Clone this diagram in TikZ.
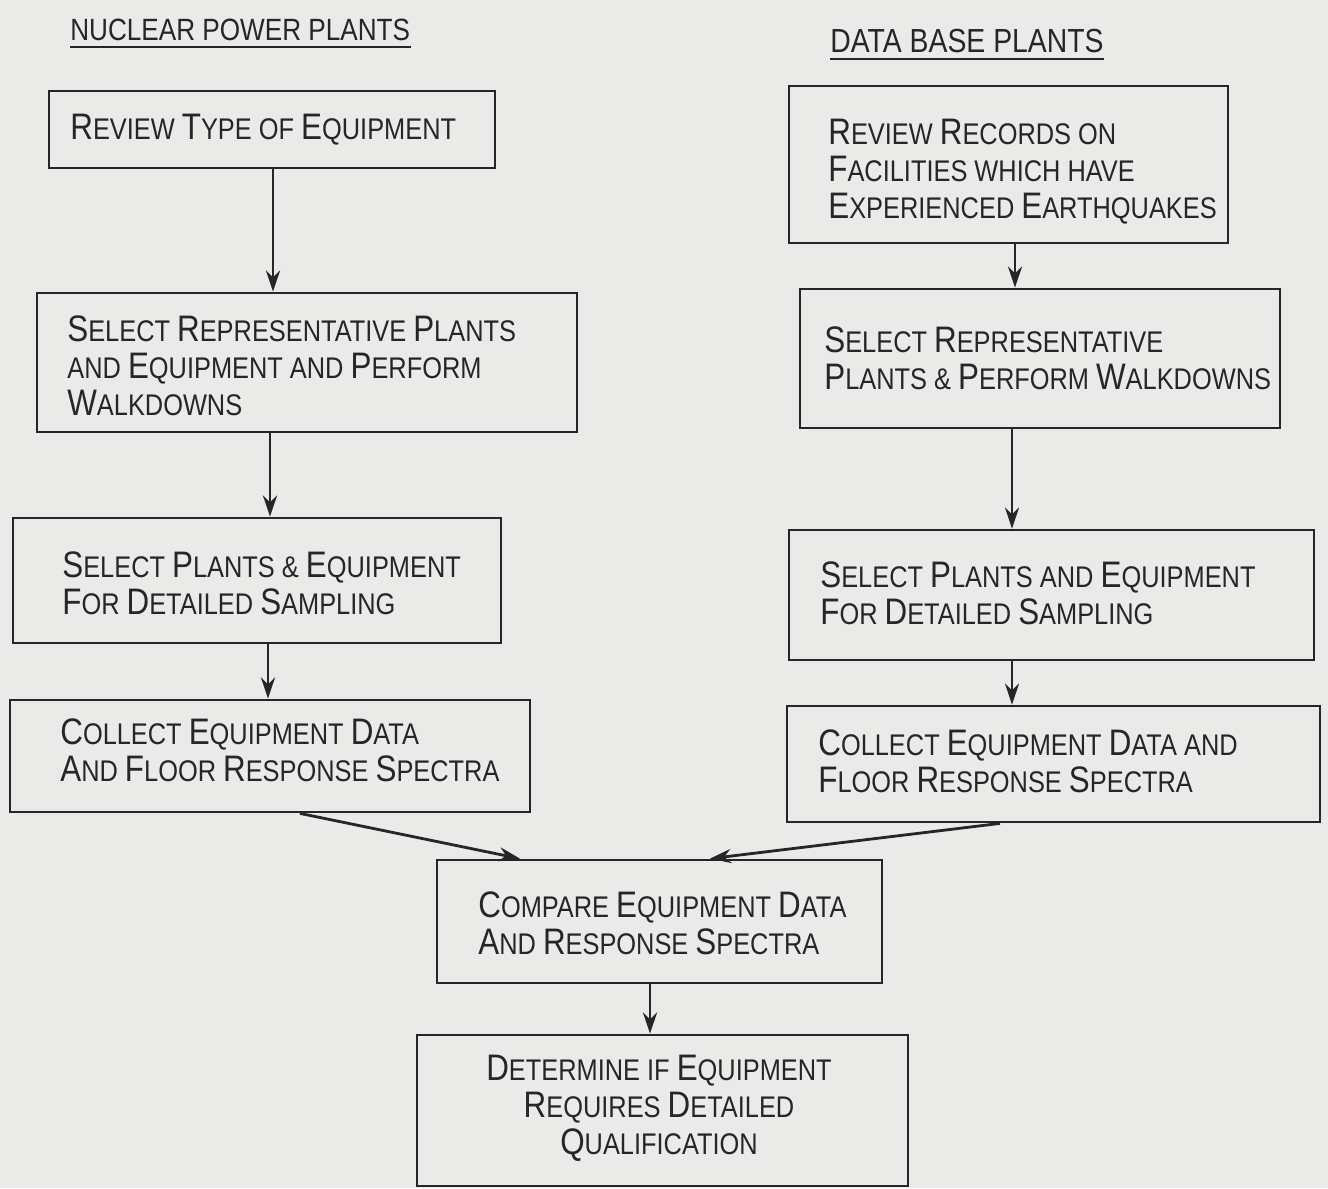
\documentclass[tikz,border=0pt]{standalone}
\usepackage{fontspec}
\setmainfont{Liberation Sans}[FakeStretch=0.85]
\usetikzlibrary{arrows.meta}
\definecolor{paper}{HTML}{EAEAE8}
\definecolor{ink}{HTML}{262626}
\newcommand\Bg[1]{{\fontsize{21}{19}\selectfont #1}}
\tikzset{
  box/.style={draw=ink, line width=1.6pt, rectangle, inner sep=0pt},
  txt/.style={align=left, text=ink, font=\fontsize{17}{21}\selectfont, inner sep=0pt, anchor=west},
  ttl/.style={text=ink, font=\fontsize{19}{21}\selectfont, inner sep=0pt, anchor=base west},
  arr/.style={draw=ink, line width=1.6pt, -{Stealth[length=12pt,width=8pt]}},
}
\begin{document}
\begin{tikzpicture}[x=0.02cm, y=-0.02cm]
\fill[paper] (0,0) rectangle (1328,1188);
\useasboundingbox (0,0) rectangle (1328,1188);
% titles
\node[ttl, font=\fontsize{17.5}{21}\selectfont] (t1) at (70,40) {NUCLEAR POWER PLANTS};
\draw[ink, line width=1.3pt] ([yshift=-4pt]t1.base west) -- ([yshift=-4pt]t1.base east);
\node[ttl] (t2) at (830,52) {DATA BASE PLANTS};
\draw[ink, line width=1.3pt] ([yshift=-4pt]t2.base west) -- ([yshift=-4pt]t2.base east);
% left column boxes
\node[box, minimum width=8.92cm, minimum height=1.54cm] (b1) at (272,129.5) {};
\node[box, minimum width=10.8cm, minimum height=2.78cm] (b2) at (307,362.5) {};
\node[box, minimum width=9.76cm, minimum height=2.5cm] (b3) at (257,580.5) {};
\node[box, minimum width=10.4cm, minimum height=2.24cm] (b4) at (270,756) {};
% right column boxes
\node[box, minimum width=8.78cm, minimum height=3.14cm] (b5) at (1008.5,164.5) {};
\node[box, minimum width=9.6cm, minimum height=2.78cm] (b6) at (1040,358.5) {};
\node[box, minimum width=10.5cm, minimum height=2.6cm] (b7) at (1051.5,595) {};
\node[box, minimum width=10.66cm, minimum height=2.32cm] (b8) at (1053.5,764) {};
% bottom boxes
\node[box, minimum width=8.9cm, minimum height=2.46cm] (b9) at (659.5,921.5) {};
\node[box, minimum width=9.82cm, minimum height=3.02cm] (b10) at (662.5,1110.5) {};
% texts
\node[txt] (x1) at (70,130) {\Bg{R}EVIEW \Bg{T}YPE OF \Bg{E}QUIPMENT};
\node[txt] (x2) at (67,366) {\Bg{S}ELECT \Bg{R}EPRESENTATIVE \Bg{P}LANTS\\AND \Bg{E}QUIPMENT AND \Bg{P}ERFORM\\\Bg{W}ALKDOWNS};
\node[txt] (x3) at (62,583) {\Bg{S}ELECT \Bg{P}LANTS \& \Bg{E}QUIPMENT\\\Bg{F}OR \Bg{D}ETAILED \Bg{S}AMPLING};
\node[txt] (x4) at (60,750) {\Bg{C}OLLECT \Bg{E}QUIPMENT \Bg{D}ATA\\\Bg{A}ND \Bg{F}LOOR \Bg{R}ESPONSE \Bg{S}PECTRA};
\node[txt] (x5) at (828,172) {\Bg{R}EVIEW \Bg{R}ECORDS ON\\\Bg{F}ACILITIES WHICH HAVE\\\Bg{E}XPERIENCED \Bg{E}ARTHQUAKES};
\node[txt] (x6) at (824,358) {\Bg{S}ELECT \Bg{R}EPRESENTATIVE\\\Bg{P}LANTS \& \Bg{P}ERFORM \Bg{W}ALKDOWNS};
\node[txt] (x7) at (820,593) {\Bg{S}ELECT \Bg{P}LANTS AND \Bg{E}QUIPMENT\\\Bg{F}OR \Bg{D}ETAILED \Bg{S}AMPLING};
\node[txt] (x8) at (818,761) {\Bg{C}OLLECT \Bg{E}QUIPMENT \Bg{D}ATA AND\\\Bg{F}LOOR \Bg{R}ESPONSE \Bg{S}PECTRA};
\node[txt] (x9) at (478,923) {\Bg{C}OMPARE \Bg{E}QUIPMENT \Bg{D}ATA\\\Bg{A}ND \Bg{R}ESPONSE \Bg{S}PECTRA};
\node[txt, align=center, anchor=center] (x10) at (659,1108) {\Bg{D}ETERMINE IF \Bg{E}QUIPMENT\\\Bg{R}EQUIRES \Bg{D}ETAILED\\\Bg{Q}UALIFICATION};
% arrows left
\draw[arr] (b1.south -| 273,0) -- (b2.north -| 273,0);
\draw[arr] (b2.south -| 270,0) -- (b3.north -| 270,0);
\draw[arr] (b3.south -| 268,0) -- (b4.north -| 268,0);
% arrows right
\draw[arr] (b5.south -| 1015,0) -- (b6.north -| 1015,0);
\draw[arr] (b6.south -| 1012,0) -- (b7.north -| 1012,0);
\draw[arr] (b7.south -| 1012,0) -- (b8.north -| 1012,0);
% merge
\draw[arr] (b4.south -| 300,0) -- (b9.north -| 520,0);
\draw[arr] (b8.south -| 1000,0) -- (b9.north -| 710,0);
\draw[arr] (b9.south -| 650,0) -- (b10.north -| 650,0);
\end{tikzpicture}
\end{document}
